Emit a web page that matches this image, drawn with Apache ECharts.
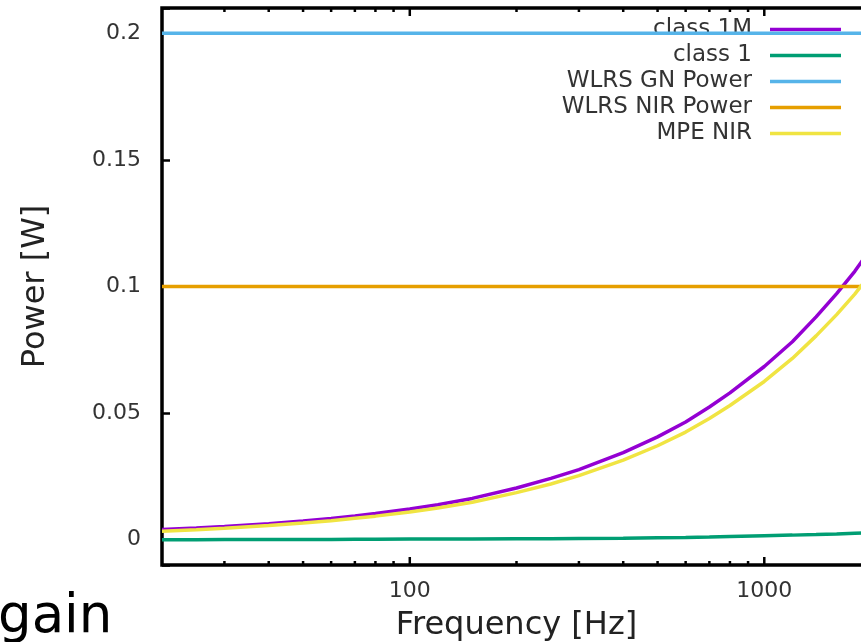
<!DOCTYPE html>
<html>
<head>
<meta charset="utf-8">
<script src="https://cdn.jsdelivr.net/npm/echarts@6/dist/echarts.min.js"></script>
<style>
  html, body { margin: 0; padding: 0; background: #fff; overflow: hidden; }
  #chart { width: 900px; height: 642px; }
</style>
</head>
<body>
<div id="chart"></div>
<script>
// frequencies [Hz] the curves were read at
var freq = [20, 25, 30, 40, 50, 60, 70, 80, 100, 120, 150, 200, 250, 300, 400, 500, 600, 700, 800, 1000, 1200, 1400, 1600, 1800, 2000]
var class1M = [0.0040, 0.0046, 0.0052, 0.0063, 0.0074, 0.0084, 0.0094, 0.0103, 0.0121, 0.0138, 0.0163, 0.0204, 0.0242, 0.0277, 0.0344, 0.0406, 0.0465, 0.0524, 0.0580, 0.0684, 0.0782, 0.0880, 0.0972, 0.1060, 0.1150]
var mpeNir = [0.0033, 0.0039, 0.0045, 0.0056, 0.0066, 0.0075, 0.0085, 0.0093, 0.0109, 0.0125, 0.0148, 0.0186, 0.0220, 0.0253, 0.0314, 0.0371, 0.0425, 0.0479, 0.0530, 0.0625, 0.0716, 0.0805, 0.0889, 0.0970, 0.1052]
var class1 = [0.0000, 0.0000, 0.0001, 0.0001, 0.0001, 0.0001, 0.0002, 0.0002, 0.0003, 0.0003, 0.0003, 0.0004, 0.0004, 0.0005, 0.0006, 0.0008, 0.0009, 0.0011, 0.0013, 0.0016, 0.0018, 0.0020, 0.0022, 0.0025, 0.0027]
var gnPower = 0.2
var nirPower = 0.1

var xMin = 20, xMax = 2000
var yMin = -0.01, yMax = 0.21
var xMajorTicks = [100, 1000]
var xMinorTicks = [30, 40, 50, 60, 70, 80, 90, 200, 300, 400, 500, 600, 700, 800, 900]

var names = ['class 1M', 'class 1', 'WLRS GN Power', 'WLRS NIR Power', 'MPE NIR']
var colors = ['#9400d3', '#009e73', '#56b4e9', '#e69f00', '#f0e442']

function pairs(ys) {
  return freq.map(function (f, i) { return [f, ys[i]] })
}
function flat(v) {
  return [[xMin, v], [xMax, v]]
}

var chart = echarts.init(document.getElementById('chart'))

function lineSeries(name, data, color) {
  return {
    name: name,
    type: 'line',
    data: data,
    symbol: 'none',
    color: color,
    lineStyle: { color: color, width: 3.5 },
    emphasis: { disabled: true },
    z: 3
  }
}

var ticks = xMajorTicks.map(function (f) { return [f, 1] })
  .concat(xMinorTicks.map(function (f) { return [f, 0] }))

var option = {
  animation: false,
  textStyle: { fontFamily: 'DejaVu Sans' },
  grid: {
    left: 162, top: 8, width: 709, height: 557,
    outerBoundsMode: 'none',
    containLabel: false,
    show: true, borderColor: '#000', borderWidth: 3.5, backgroundColor: 'transparent'
  },
  legend: {
    data: names,
    orient: 'vertical',
    align: 'right',
    right: 59,
    top: 18,
    padding: 0,
    icon: 'rect',
    itemWidth: 71,
    itemHeight: 3.5,
    itemGap: 3,
    z: 1,
    selectedMode: false,
    textStyle: { fontSize: 23, lineHeight: 23, color: '#333', padding: [0, 13, 0, 0] }
  },
  xAxis: {
    type: 'log',
    logBase: 10,
    min: xMin,
    max: xMax,
    name: 'Frequency [Hz]',
    nameLocation: 'middle',
    nameGap: 45,
    nameTextStyle: { fontSize: 32, color: '#222' },
    axisLine: { show: false },
    axisTick: { show: false },
    splitLine: { show: false },
    minorTick: { show: false },
    axisLabel: {
      fontSize: 22, color: '#333', margin: 15,
      formatter: function (v) {
        var l = Math.log10(v)
        return (Math.abs(l - Math.round(l)) < 1e-6 && v > xMin && v < xMax) ? String(Math.round(v)) : ''
      }
    }
  },
  yAxis: {
    type: 'value',
    min: yMin,
    max: yMax,
    name: 'Power [W]',
    nameLocation: 'middle',
    nameGap: 110,
    nameTextStyle: { fontSize: 32, color: '#222' },
    axisLine: { show: false },
    splitLine: { show: false },
    axisTick: { show: true, inside: true, length: 8, lineStyle: { color: '#000', width: 2.5 } },
    axisLabel: {
      fontSize: 22, color: '#333', margin: 21,
      formatter: function (v) {
        return Math.abs(v * 20 - Math.round(v * 20)) < 1e-6 ? String(+v.toFixed(2)) : ''
      }
    }
  },
  graphic: [{
    type: 'text',
    left: -2,
    top: 592,
    silent: true,
    style: { text: 'gain', font: '53px "DejaVu Sans"', fill: '#000' }
  }],
  series: [
    lineSeries(names[0], pairs(class1M), colors[0]),
    lineSeries(names[1], pairs(class1), colors[1]),
    lineSeries(names[2], flat(gnPower), colors[2]),
    lineSeries(names[3], flat(nirPower), colors[3]),
    lineSeries(names[4], pairs(mpeNir), colors[4]),
    {
      type: 'custom',
      silent: true,
      data: ticks,
      z: 5,
      renderItem: function (params, api) {
        var f = api.value(0)
        var len = api.value(1) ? 8 : 4
        var b = api.coord([f, yMin])
        var t = api.coord([f, yMax])
        var st = { stroke: '#000', lineWidth: 2.5 }
        return {
          type: 'group',
          children: [
            { type: 'line', shape: { x1: b[0], y1: b[1], x2: b[0], y2: b[1] - len }, style: st },
            { type: 'line', shape: { x1: t[0], y1: t[1], x2: t[0], y2: t[1] + len }, style: st }
          ]
        }
      }
    }
  ]
}

option && chart.setOption(option)
</script>
</body>
</html>
